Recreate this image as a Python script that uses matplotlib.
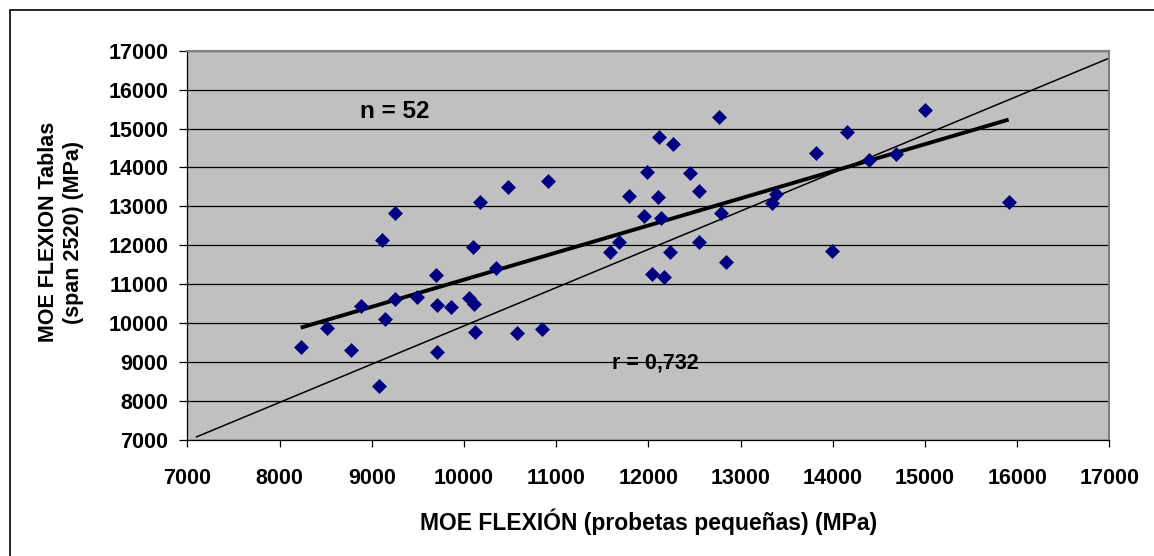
import numpy as np
import matplotlib
matplotlib.use("Agg")
import matplotlib.pyplot as plt
from matplotlib.patches import Rectangle

plt.rcParams['font.family'] = ['Liberation Sans', 'DejaVu Sans']
plt.rcParams['font.weight'] = 'bold'

# MOE flexion: small specimens (x) vs boards, span 2520 (y), MPa
moe_probetas = [8230, 8510, 8780, 8880, 9080, 9115, 9148, 9252, 9252, 9487,
                9693, 9704, 9711, 9860, 10055, 10113, 10102, 10124, 10174, 10344,
                10482, 10579, 10847, 10915,
                11580, 11680, 11795, 11950, 11990, 12045, 12100, 12120, 12140, 12170,
                12240, 12265, 12455, 12555, 12555, 12765, 12790, 12843, 13345, 13390,
                13819, 13988, 14153, 14394, 14683, 15004, 15908]
moe_tablas = [9400, 9868, 9312, 10450, 8387, 12137, 10116, 12839, 10630, 10673,
              11247, 9252, 10467, 10425, 10656, 10485, 11966, 9765, 13122, 11418,
              13498, 9748, 9862, 13650,
              11820, 12094, 13276, 12762, 13884, 11255, 13250, 14774, 12715, 11195,
              11820, 14610, 13870, 13404, 12094, 15296, 12822, 11572, 13096, 13318,
              14363, 11846, 14902, 14192, 14337, 15476, 13104]

# hand-drawn reference line
ref_x = [7100, 17000]
ref_y = [7080, 16810]

n_label = "n = 52"
r_label = "r = 0,732"
x_ticks = list(range(7000, 17001, 1000))
y_ticks = list(range(7000, 17001, 1000))

W, H = 1154, 556
fig = plt.figure(figsize=(W / 100, H / 100), dpi=100)
ax = fig.add_axes([187.3 / W, 1 - 440 / H, 922 / W, 389.3 / H])
ax.set_facecolor('#C0C0C0')

ax.set_xlim(7000, 17000)
ax.set_ylim(7000, 17000)
ax.set_xticks(x_ticks)
ax.set_yticks(y_ticks)
ax.yaxis.grid(True, color='black', linewidth=0.9)
ax.set_axisbelow(True)

ax.tick_params(axis='x', direction='out', length=5, width=0.9, pad=15, labelsize=15.5)
ax.tick_params(axis='y', direction='out', length=5.5, width=0.9, pad=8, labelsize=15.5)
for lab in ax.get_xticklabels() + ax.get_yticklabels():
    lab.set_fontweight('bold')

for side in ('top', 'right'):
    ax.spines[side].set_color('#808080')
    ax.spines[side].set_linewidth(1.5)
for side in ('left', 'bottom'):
    ax.spines[side].set_color('black')
    ax.spines[side].set_linewidth(0.9)

x = np.array(moe_probetas, dtype=float)
y = np.array(moe_tablas, dtype=float)

ax.plot(ref_x, ref_y, color='black', linewidth=1.1, zorder=2)

slope, intercept = np.polyfit(x, y, 1)
fx = np.array([x.min(), x.max()])
ax.plot(fx, slope * fx + intercept, color='black', linewidth=2.8,
        solid_capstyle='butt', zorder=3)

ax.scatter(x, y, marker='D', s=58, color='#000080', linewidths=0, zorder=4)

ax.text(9245, 15440, n_label, fontsize=17.5, fontweight='bold', ha='center', va='center')
ax.text(12075, 8990, r_label, fontsize=15.5, fontweight='bold', ha='center', va='center')

ax.set_xlabel("MOE FLEXIÓN (probetas pequeñas) (MPa)", fontsize=16.5,
              fontweight='bold', labelpad=14)
fig.text(61 / W, 1 - 232 / H, "MOE FLEXION Tablas\n(span 2520) (MPa)", rotation=90,
         ha='center', va='center', multialignment='center', fontsize=15.5,
         fontweight='bold', linespacing=1.3)

# outer frame (left and top edges visible)
fig.patches.append(Rectangle((9.5 / W, -0.05), 1.1, 1 - 10 / H + 0.05,
                             transform=fig.transFigure, fill=False,
                             edgecolor='black', linewidth=1.2))

fig.savefig('out.png', dpi=100)
